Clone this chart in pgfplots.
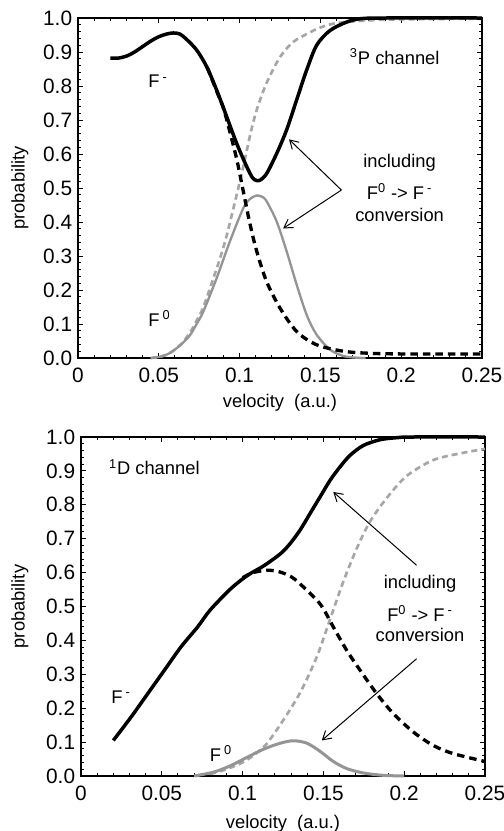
\documentclass[border=0pt]{standalone}
\usepackage{fontspec}
\setmainfont{Liberation Sans}
\usepackage{pgfplots}
\pgfplotsset{compat=1.18}
\usetikzlibrary{arrows.meta}

\tikzset{lbl/.style={font=\fontsize{11}{13}\selectfont}}
\pgfplotsset{
  panel/.style={
    scale only axis, width=242.4pt, height=204pt,
    xmin=0, xmax=0.25, ymin=0, ymax=1,
    xtick={0,0.05,0.1,0.15,0.2,0.25},
    xticklabels={0,0.05,0.1,0.15,0.2,0.25},
    ytick={0,0.1,0.2,0.3,0.4,0.5,0.6,0.7,0.8,0.9,1},
    yticklabels={0.0,0.1,0.2,0.3,0.4,0.5,0.6,0.7,0.8,0.9,1.0},
    minor x tick num=4, minor y tick num=4,
    tick align=inside, tick pos=both,
    major tick length=3.2pt, minor tick length=1.8pt,
    axis line style={line width=0.9pt},
    tick style={line width=0.6pt, black},
    /pgf/number format/assume math mode=true,
    every tick label/.append style={font=\fontsize{12.5}{14}\selectfont},
    xticklabel style={yshift=-2.7pt},
    clip=false,
  },
  fsolid/.style={black, line width=2.1pt, smooth},
  fdash/.style={black, line width=2pt, dash pattern=on 4.5pt off 3pt, smooth},
  gsolid/.style={black!42, line width=1.4pt, smooth},
  gdash/.style={black!35, line width=1.6pt, dash pattern=on 3.6pt off 2.4pt, smooth},
}

\begin{document}
\begin{tikzpicture}
\useasboundingbox (0,0) rectangle (302.4pt,-498.6pt);

% ---------------- top panel: 3P channel ----------------
\begin{axis}[panel, name=paneltp, at={(46.8pt,-10.8pt)}, anchor=north west]
\addplot[gdash] coordinates {
(0.045,0.000) (0.050,0.003) (0.055,0.010) (0.060,0.025) (0.065,0.047)
(0.070,0.080) (0.0734,0.110) (0.0776,0.150) (0.0838,0.235) (0.088,0.295)
(0.092,0.360) (0.0982,0.480) (0.1023,0.563) (0.1065,0.655) (0.1106,0.730)
(0.1168,0.810) (0.125,0.885) (0.1333,0.930) (0.1436,0.958) (0.150,0.972)
(0.160,0.985) (0.180,0.993) (0.200,0.996) (0.250,0.998)};
\addplot[gsolid] coordinates {
(0.045,0.000) (0.050,0.003) (0.055,0.010) (0.060,0.025) (0.065,0.045)
(0.0693,0.067) (0.0734,0.100) (0.0776,0.137) (0.0858,0.235) (0.094,0.343)
(0.1023,0.441) (0.1065,0.468) (0.1106,0.478) (0.114,0.474) (0.1167,0.461)
(0.1229,0.402) (0.1291,0.314) (0.1353,0.216) (0.1415,0.127) (0.1476,0.069)
(0.1559,0.025) (0.1641,0.006) (0.172,0.001) (0.178,0.000)};
\addplot[fdash] coordinates {
(0.080,0.855) (0.0858,0.785) (0.090,0.735) (0.094,0.665) (0.0982,0.585)
(0.1023,0.490) (0.1064,0.395) (0.1106,0.314) (0.1167,0.225) (0.125,0.147)
(0.1353,0.078) (0.1476,0.039) (0.1641,0.020) (0.180,0.014) (0.200,0.012)
(0.250,0.012)};
\addplot[fsolid] coordinates {
(0.020,0.882) (0.025,0.882) (0.030,0.888) (0.035,0.900) (0.040,0.916)
(0.045,0.932) (0.050,0.945) (0.055,0.953) (0.059,0.956) (0.063,0.953)
(0.067,0.938) (0.0734,0.906) (0.0796,0.857) (0.0858,0.788) (0.092,0.710)
(0.0982,0.631) (0.1044,0.563) (0.108,0.530) (0.1106,0.522) (0.113,0.524)
(0.1168,0.543) (0.123,0.602) (0.1291,0.671) (0.1353,0.759) (0.1415,0.847)
(0.1477,0.920) (0.1559,0.963) (0.1662,0.988) (0.175,0.998) (0.190,1.000)
(0.250,1.000)};
\node[lbl] at (axis cs:0.0495,0.813) {F\,\textsuperscript{-}};
\node[lbl] at (axis cs:0.0505,0.116) {F\,\textsuperscript{0}};
\node[lbl] at (axis cs:0.196,0.887) {\textsuperscript{3}P channel};
\node[lbl] at (axis cs:0.199,0.573) {including};
\node[lbl] at (axis cs:0.199,0.489) {F\textsuperscript{0} -> F\,\textsuperscript{-}};
\node[lbl] at (axis cs:0.199,0.420) {conversion};
\draw[line width=0.6pt, -{Straight Barb[length=5pt,width=6pt]}]
  (axis cs:0.163,0.494) -- (axis cs:0.1306,0.643);
\draw[line width=0.6pt, -{Straight Barb[length=5pt,width=6pt]}]
  (axis cs:0.163,0.494) -- (axis cs:0.1269,0.381);
\node[lbl, rotate=90] at (axis description cs:-0.1436,0.5) {probability};
\node[lbl] at (axis description cs:0.5,-0.1324) {velocity\ \ (a.u.)};
\end{axis}

% ---------------- bottom panel: 1D channel ----------------
\begin{axis}[panel, name=panelbt, at={(48.6pt,-262.2pt)}, anchor=north west, height=203.4pt,
  gsolid/.append style={line width=1.8pt}]
\addplot[gdash] coordinates {
(0.080,0.006) (0.090,0.020) (0.100,0.040) (0.107,0.062) (0.1149,0.095)
(0.1252,0.165) (0.1355,0.245) (0.1458,0.350) (0.1541,0.462) (0.1623,0.573)
(0.1706,0.671) (0.1788,0.750) (0.1892,0.820) (0.2015,0.885) (0.218,0.932)
(0.235,0.952) (0.250,0.965)};
\addplot[gsolid] coordinates {
(0.070,0.000) (0.0825,0.012) (0.0928,0.031) (0.1031,0.056) (0.1134,0.080)
(0.1235,0.097) (0.1314,0.104) (0.1397,0.097) (0.1479,0.073) (0.1561,0.043)
(0.1644,0.022) (0.1747,0.009) (0.187,0.002) (0.200,0.000)};
\addplot[fdash] coordinates {
(0.100,0.585) (0.1065,0.600) (0.1155,0.607) (0.123,0.602) (0.130,0.588)
(0.1355,0.567) (0.1479,0.508) (0.1561,0.440) (0.1644,0.371) (0.1727,0.312)
(0.183,0.243) (0.1933,0.184) (0.2056,0.130) (0.218,0.090) (0.2304,0.066)
(0.250,0.043)};
\addplot[fsolid] coordinates {
(0.020,0.105) (0.031,0.174) (0.0413,0.243) (0.0516,0.312) (0.0619,0.381)
(0.0722,0.440) (0.080,0.490) (0.0928,0.553) (0.1031,0.592) (0.1134,0.621)
(0.1235,0.656) (0.1293,0.685) (0.1355,0.725) (0.1417,0.774) (0.1479,0.823)
(0.1541,0.872) (0.1603,0.912) (0.1665,0.946) (0.1747,0.975) (0.185,0.992)
(0.1953,0.998) (0.205,1.000) (0.250,1.000)};
\node[lbl] at (axis cs:0.0248,0.233) {F\,\textsuperscript{-}};
\node[lbl] at (axis cs:0.0866,0.066) {F\,\textsuperscript{0}};
\node[lbl] at (axis cs:0.0454,0.911) {\textsuperscript{1}D channel};
\node[lbl] at (axis cs:0.2098,0.567) {including};
\node[lbl] at (axis cs:0.2098,0.479) {F\textsuperscript{0} -> F\,\textsuperscript{-}};
\node[lbl] at (axis cs:0.2098,0.416) {conversion};
\draw[line width=0.6pt, -{Straight Barb[length=5pt,width=6pt]}]
  (axis cs:0.2077,0.6215) -- (axis cs:0.1561,0.838);
\draw[line width=0.6pt, -{Straight Barb[length=5pt,width=6pt]}]
  (axis cs:0.2077,0.346) -- (axis cs:0.149,0.105);
\node[lbl, rotate=90] at (axis description cs:-0.1510,0.5) {probability};
\node[lbl] at (axis description cs:0.5,-0.1406) {velocity\ \ (a.u.)};
\end{axis}
\end{tikzpicture}
\end{document}
